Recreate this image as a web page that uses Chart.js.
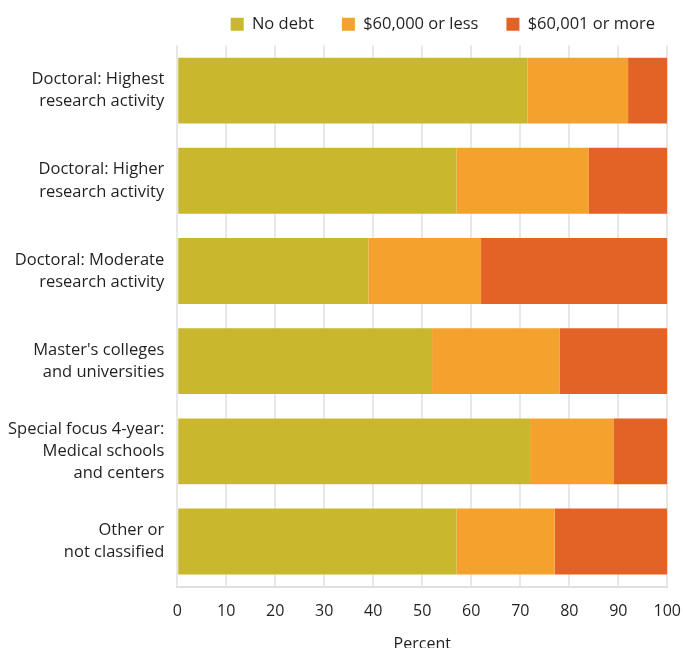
<!DOCTYPE html>
<html>
<head>
<meta charset="utf-8">
<script src="https://cdn.jsdelivr.net/npm/chart.js@4"></script>
<style>
  html, body { margin: 0; padding: 0; background: #fff; }
  #wrap { width: 683px; height: 648px; position: relative; }
</style>
</head>
<body>
<div id="wrap"><canvas id="debtChart"></canvas></div>
<script>
// categories (multi-line labels)
const categories = [
  ['Doctoral: Highest', 'research activity'],
  ['Doctoral: Higher', 'research activity'],
  ['Doctoral: Moderate', 'research activity'],
  ["Master's colleges", 'and universities'],
  ['Special focus 4-year:', 'Medical schools', 'and centers'],
  ['Other or', 'not classified']
];

// percent of graduates in each debt group
const noDebt = [71.5, 57, 39, 52, 72, 57];
const upTo60k = [20.5, 27, 23, 26, 17, 20];
const over60k = [8, 16, 38, 22, 11, 23];

const seriesNames = ['No debt', '$60,000 or less', '$60,001 or more'];
const xTicks = [0, 10, 20, 30, 40, 50, 60, 70, 80, 90, 100];

const FONT = "'Open Sans', 'Liberation Sans', sans-serif";
const TEXT = '#231f20';

// a little extra room under the legend
const legendGap = {
  id: 'legendGap',
  beforeInit(chart) {
    const origFit = chart.legend.fit;
    chart.legend.fit = function () {
      origFit.call(this);
      this.height += 3;
    };
  }
};

new Chart(document.getElementById('debtChart'), {
  type: 'bar',
  data: {
    labels: categories,
    datasets: [
      { label: seriesNames[0], data: noDebt, backgroundColor: '#c9b72e' },
      { label: seriesNames[1], data: upTo60k, backgroundColor: '#f4a12e' },
      { label: seriesNames[2], data: over60k, backgroundColor: '#e26325' }
    ]
  },
  options: {
    indexAxis: 'y',
    responsive: true,
    maintainAspectRatio: false,
    animation: false,
    datasets: { bar: { categoryPercentage: 0.73, barPercentage: 1.0, borderWidth: 0 } },
    layout: { padding: { top: -12, right: 0, left: 3, bottom: -6 } },
    plugins: {
      legend: {
        position: 'top',
        align: 'end',
        labels: {
          font: { family: FONT, size: 16.5 },
          color: TEXT,
          boxWidth: 13,
          boxHeight: 13,
          padding: 28
        }
      },
      tooltip: { enabled: false }
    },
    scales: {
      x: {
        stacked: true,
        min: 0, max: 100,
        afterBuildTicks: axis => { axis.ticks = xTicks.map(v => ({ value: v })); },
        grid: { color: '#e8e8e8', lineWidth: 2, drawTicks: true, tickLength: 13, tickColor: 'rgba(0,0,0,0)' },
        border: { color: '#e0e0e0', width: 2 },
        ticks: { font: { family: FONT, size: 16 }, color: TEXT, padding: 2 },
        title: {
          display: true, text: 'Percent',
          font: { family: FONT, size: 16 }, color: TEXT,
          padding: { top: 12, bottom: 0 }
        }
      },
      y: {
        stacked: true,
        grid: { display: false },
        border: { display: false },
        ticks: { font: { family: FONT, size: 16.5, lineHeight: 1.34 }, color: TEXT, padding: 5 }
      }
    }
  },
  plugins: [legendGap]
});
</script>
</body>
</html>
